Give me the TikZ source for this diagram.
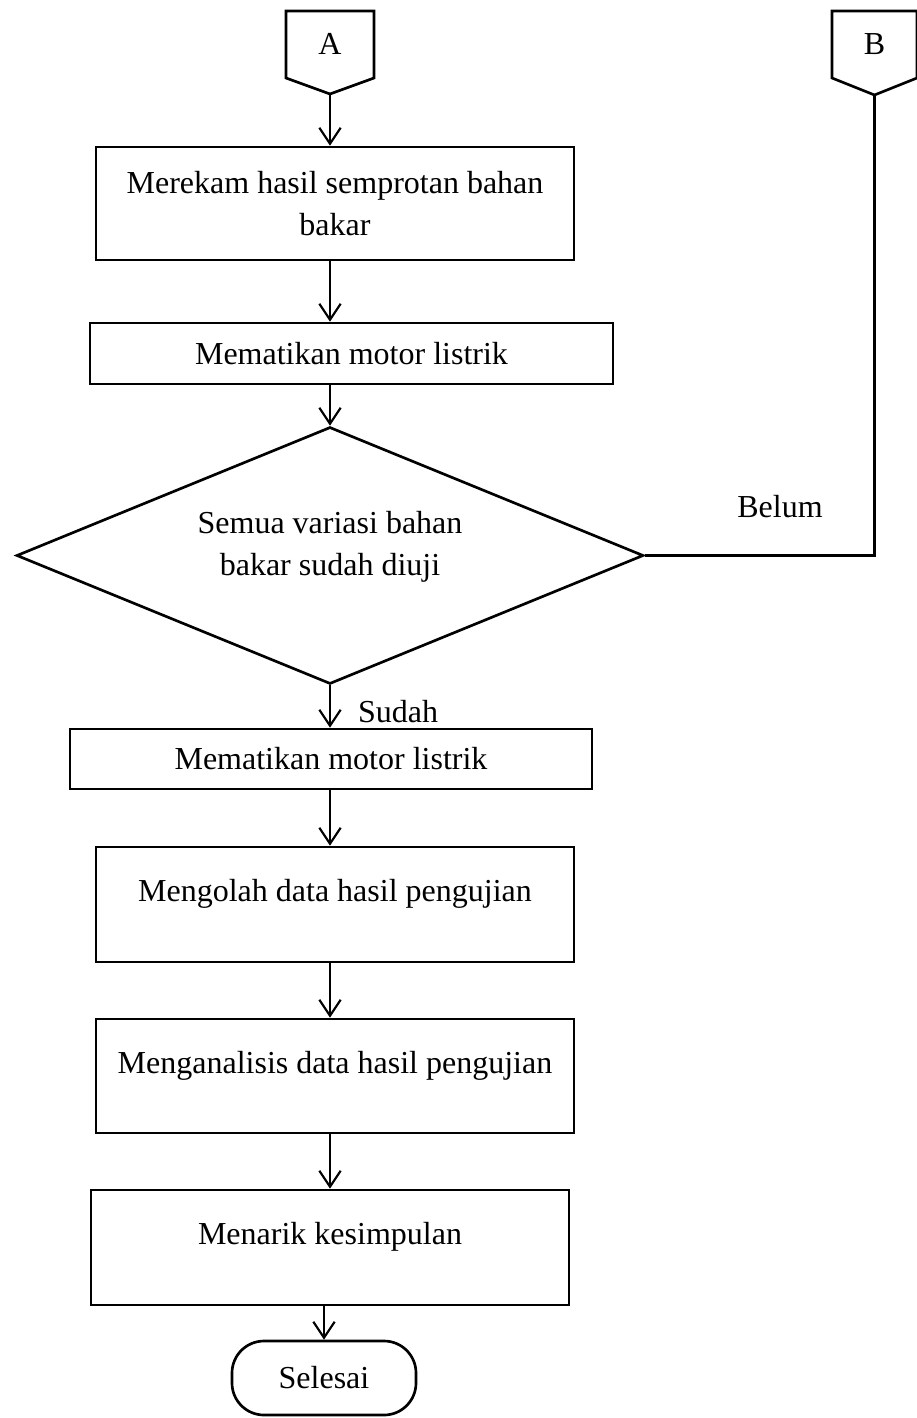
\documentclass[tikz,border=0pt]{standalone}
\usepackage{fontspec}
\setmainfont{Liberation Serif}
\usetikzlibrary{shapes.geometric, arrows.meta}

\begin{document}
\begin{tikzpicture}[x=0.375pt, y=-0.375pt, font=\fontsize{12pt}{15.75pt}\selectfont,
	proses/.style={rectangle, draw=black, line width=1pt, align=center},
	keputusan/.style={diamond, draw=black, line width=1pt, aspect=2.44, inner sep=0pt, align=center},
	terminal/.style={rectangle, rounded corners=12pt, draw=black, line width=1pt},
	panah/.style={-{Straight Barb[length=6pt, width=8pt]}, line width=0.8pt}]
	\useasboundingbox (0,0) rectangle (916,1418);
	% konektor A dan B
	\draw[line width=1pt] (286,11) -- (374,11) -- (374,78) -- (330,94) -- (286,78) -- cycle;
	\node (A) at (330,44) {A};
	\coordinate (Atip) at (330,94);
	\draw[line width=1pt] (832,11) -- (917,11) -- (917,78) -- (874.5,95) -- (832,78) -- cycle;
	\node (B) at (874.5,44) {B};
	\coordinate (Btip) at (874.5,95);
	% proses
	\node[proses, minimum width=179.25pt, minimum height=42.375pt] (rekam) at (335,203.5) {Merekam hasil semprotan bahan\\bakar};
	\node[proses, minimum width=196.125pt, minimum height=22.875pt] (matikan1) at (351.5,353.5) {Mematikan motor listrik};
	\node[keputusan, minimum width=235.125pt, minimum height=96.375pt, text height=20pt, text depth=4.9pt] (uji) at (330,555.5) {Semua variasi bahan\\bakar sudah diuji};
	\node[proses, minimum width=195.75pt, minimum height=22.5pt] (matikan2) at (331,759) {Mematikan motor listrik};
	\node[proses, minimum width=179.25pt, minimum height=43.125pt, text height=8pt, text depth=10pt] (olah) at (335,904.5) {Mengolah data hasil pengujian};
	\node[proses, minimum width=179.25pt, minimum height=42.75pt, text height=8pt, text depth=10pt] (analisis) at (335,1076) {Menganalisis data hasil pengujian};
	\node[proses, minimum width=179.25pt, minimum height=43.125pt, text height=8pt, text depth=10pt] (simpul) at (330,1247.5) {Menarik kesimpulan};
	\node[terminal, minimum width=69pt, minimum height=27.75pt] (selesai) at (324,1378) {Selesai};
	\node (sudah) at (398,712) {Sudah};
	\node (belum) at (780,507) {Belum};
	% panah
	\draw[panah] (Atip) -- (Atip |- rekam.north);
	\draw[panah] (rekam.south -| Atip) -- (matikan1.north -| Atip);
	\draw[panah] (matikan1.south -| Atip) -- (uji.north);
	\draw[panah] (uji.south) -- (matikan2.north -| uji.south);
	\draw[panah] (matikan2.south -| Atip) -- (olah.north -| Atip);
	\draw[panah] (olah.south -| Atip) -- (analisis.north -| Atip);
	\draw[panah] (analisis.south -| Atip) -- (simpul.north -| Atip);
	\draw[panah] (simpul.south -| selesai.north) -- (selesai.north);
	\draw[line width=0.8pt] (uji.east) -| (Btip);
\end{tikzpicture}
\end{document}
